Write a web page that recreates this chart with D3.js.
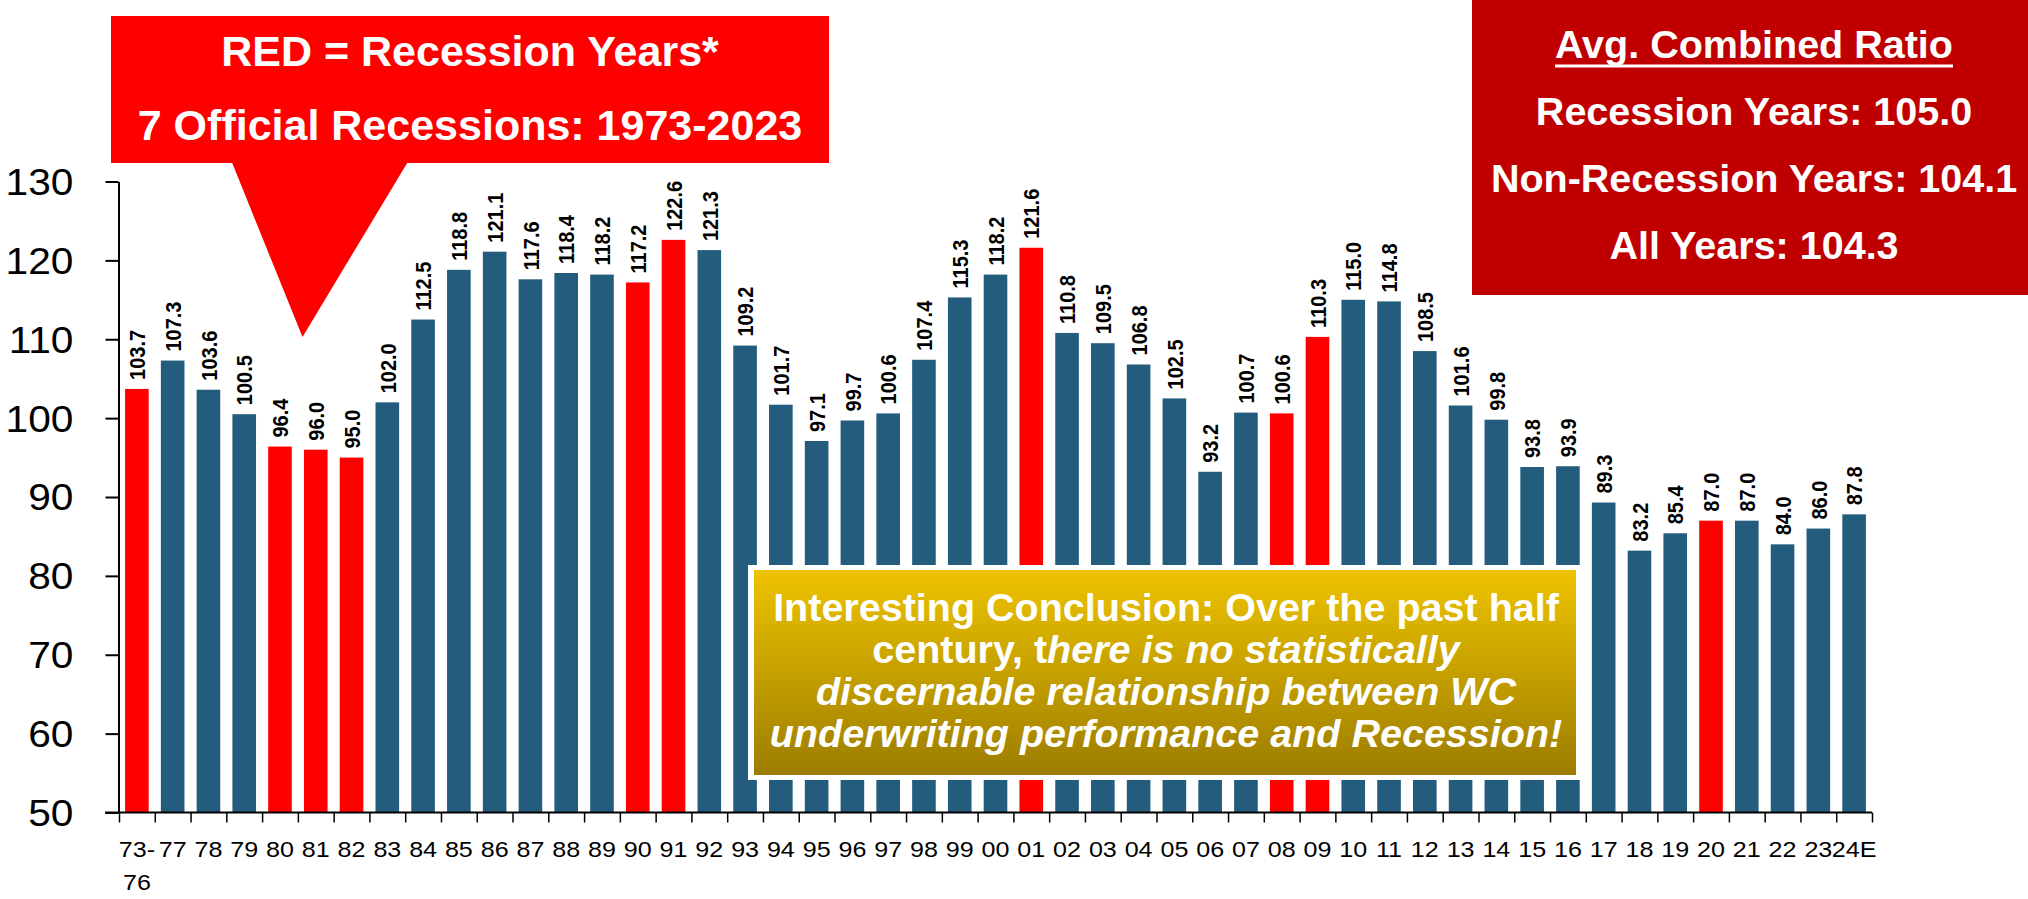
<!DOCTYPE html>
<html>
<head>
<meta charset="utf-8">
<script src="https://cdn.jsdelivr.net/npm/d3@7"></script>
<style>
  html, body { margin: 0; padding: 0; background: #ffffff; }
  svg { display: block; font-family: "Liberation Sans", Arial, Helvetica, sans-serif; }
</style>
</head>
<body>
<svg id="chart" width="2028" height="899"></svg>
<script>
// WC combined ratio by accident year, recession years flagged
const categories = ["73-76","77","78","79","80","81","82","83","84","85","86","87","88","89",
  "90","91","92","93","94","95","96","97","98","99","00","01","02","03","04","05","06","07",
  "08","09","10","11","12","13","14","15","16","17","18","19","20","21","22","23","24E"];
const ratios = [103.7,107.3,103.6,100.5,96.4,96.0,95.0,102.0,112.5,118.8,121.1,117.6,118.4,118.2,
  117.2,122.6,121.3,109.2,101.7,97.1,99.7,100.6,107.4,115.3,118.2,121.6,110.8,109.5,106.8,102.5,93.2,100.7,
  100.6,110.3,115.0,114.8,108.5,101.6,99.8,93.8,93.9,89.3,83.2,85.4,87.0,87.0,84.0,86.0,87.8];
const recessionYears = ["73-76","80","81","82","90","91","01","08","09","20"];
const yTicks = [50,60,70,80,90,100,110,120,130];

const titleLines = ["RED = Recession Years*", "7 Official Recessions: 1973-2023"];
const avgHeading = "Avg. Combined Ratio";
const avgLines = ["Recession Years: 105.0", "Non-Recession Years: 104.1", "All Years: 104.3"];
const conclusionLines = [
  [{t: "Interesting Conclusion: Over the past half", i: false}],
  [{t: "century, t", i: false}, {t: "here is no statistically", i: true}],
  [{t: "discernable relationship between WC", i: true}],
  [{t: "underwriting performance and Recession!", i: true}]
];

const BLUE = "#235c7c", RED = "#ff0000";
const svg = d3.select("#chart");

const plotLeft = 119, plotRight = 1872, plotTop = 181.5, plotBottom = 812.5;
const x = d3.scaleBand().domain(categories).range([plotLeft, plotRight])
  .paddingInner(0.34).paddingOuter(0.17);
const xEdge = d3.scaleLinear().domain([0, categories.length]).range([plotLeft, plotRight]);
const y = d3.scaleLinear().domain([50, 130]).range([plotBottom, plotTop]);

// chart text is slightly widened horizontally
const SX = 1.14;

// bars
svg.append("g").selectAll("rect").data(categories).join("rect")
  .attr("x", d => x(d))
  .attr("width", x.bandwidth())
  .attr("y", (d, i) => y(ratios[i]))
  .attr("height", (d, i) => y(50) - y(ratios[i]))
  .attr("fill", d => recessionYears.includes(d) ? RED : BLUE);

// value labels, rotated
const vfs = 20;
svg.append("g").selectAll("text").data(categories).join("text")
  .attr("transform", (d, i) => {
    const cx = x(d) + x.bandwidth() / 2;
    return `translate(${cx},${y(ratios[i]) - 9}) scale(${SX},1) rotate(-90)`;
  })
  .attr("dy", "0.36em")
  .attr("text-anchor", "start")
  .attr("font-size", vfs)
  .attr("font-weight", "bold")
  .attr("fill", "#000")
  .text((d, i) => ratios[i].toFixed(1));

// y axis
const yAxis = svg.append("g").attr("transform", `translate(${plotLeft - 0.5},0)`)
  .call(d3.axisLeft(y).tickValues(yTicks).tickSize(13).tickSizeOuter(0).tickFormat(d3.format("d")));
yAxis.select(".domain").attr("stroke", "#000").attr("stroke-width", 2);
yAxis.selectAll(".tick line").attr("stroke", "#000").attr("stroke-width", 2);
yAxis.selectAll(".tick text")
  .attr("x", null).attr("dy", "0.36em")
  .attr("transform", `translate(-45,0) scale(1.13,1)`)
  .attr("text-anchor", "end")
  .attr("font-size", 36)
  .attr("font-family", "'Liberation Sans', Arial, sans-serif")
  .attr("fill", "#000");

// x axis with ticks at category boundaries
const xAxis = svg.append("g").attr("transform", `translate(0,${plotBottom})`)
  .call(d3.axisBottom(xEdge).tickValues(d3.range(categories.length + 1)).tickSize(10)
    .tickSizeOuter(0).tickFormat(""));
xAxis.select(".domain").attr("d", `M${plotLeft - 14},0H${plotRight}`)
  .attr("stroke", "#000").attr("stroke-width", 2);
xAxis.selectAll(".tick line").attr("stroke", "#000").attr("stroke-width", 1.5);

// category labels
const catG = svg.append("g");
categories.forEach(c => {
  const cx = x(c) + x.bandwidth() / 2;
  const lines = c.includes("-") ? [c.slice(0, c.indexOf("-") + 1), c.slice(c.indexOf("-") + 1)] : [c];
  lines.forEach((ln, k) => {
    catG.append("text")
      .attr("transform", `translate(${cx},${857 + k * 33}) scale(${SX},1)`)
      .attr("text-anchor", "middle")
      .attr("font-size", 22)
      .attr("fill", "#000")
      .text(ln);
  });
});

// recession callout with pointer
svg.append("path")
  .attr("d", "M231,160 L409,160 L302.5,337 Z")
  .attr("fill", RED);
svg.append("rect").attr("x", 111).attr("y", 16).attr("width", 718).attr("height", 147).attr("fill", RED);
titleLines.forEach((t, k) => {
  svg.append("text")
    .attr("x", 470).attr("y", 66 + k * 74)
    .attr("text-anchor", "middle")
    .attr("font-size", 43).attr("font-weight", "bold").attr("fill", "#fff")
    .text(t);
});

// averages box
svg.append("rect").attr("x", 1472).attr("y", 0).attr("width", 556).attr("height", 295).attr("fill", "#c00000");
const headT = svg.append("text")
  .attr("x", 1754).attr("y", 58)
  .attr("text-anchor", "middle")
  .attr("font-size", 39.5).attr("font-weight", "bold").attr("fill", "#fff")
  .text(avgHeading);
const hb = headT.node().getBBox();
svg.append("rect").attr("x", hb.x).attr("y", 64.5).attr("width", hb.width).attr("height", 3).attr("fill", "#fff");
avgLines.forEach((t, k) => {
  svg.append("text")
    .attr("x", 1754).attr("y", 125 + k * 67)
    .attr("text-anchor", "middle")
    .attr("font-size", 39.5).attr("font-weight", "bold").attr("fill", "#fff")
    .text(t);
});

// conclusion box
const defs = svg.append("defs");
const grad = defs.append("linearGradient").attr("id", "gold").attr("x1", 0).attr("y1", 0).attr("x2", 0).attr("y2", 1);
grad.append("stop").attr("offset", "0%").attr("stop-color", "#eec300");
grad.append("stop").attr("offset", "100%").attr("stop-color", "#9c7d00");
svg.append("rect").attr("x", 748).attr("y", 565).attr("width", 834).attr("height", 215).attr("fill", "#fff");
svg.append("rect").attr("x", 754).attr("y", 570).attr("width", 822).attr("height", 205).attr("fill", "url(#gold)");
conclusionLines.forEach((parts, k) => {
  const t = svg.append("text")
    .attr("x", 1166).attr("y", 621 + k * 42)
    .attr("text-anchor", "middle")
    .attr("font-size", 39.5).attr("font-weight", "bold").attr("fill", "#fff");
  parts.forEach(p => t.append("tspan").attr("font-style", p.i ? "italic" : "normal").text(p.t));
});
</script>
</body>
</html>
